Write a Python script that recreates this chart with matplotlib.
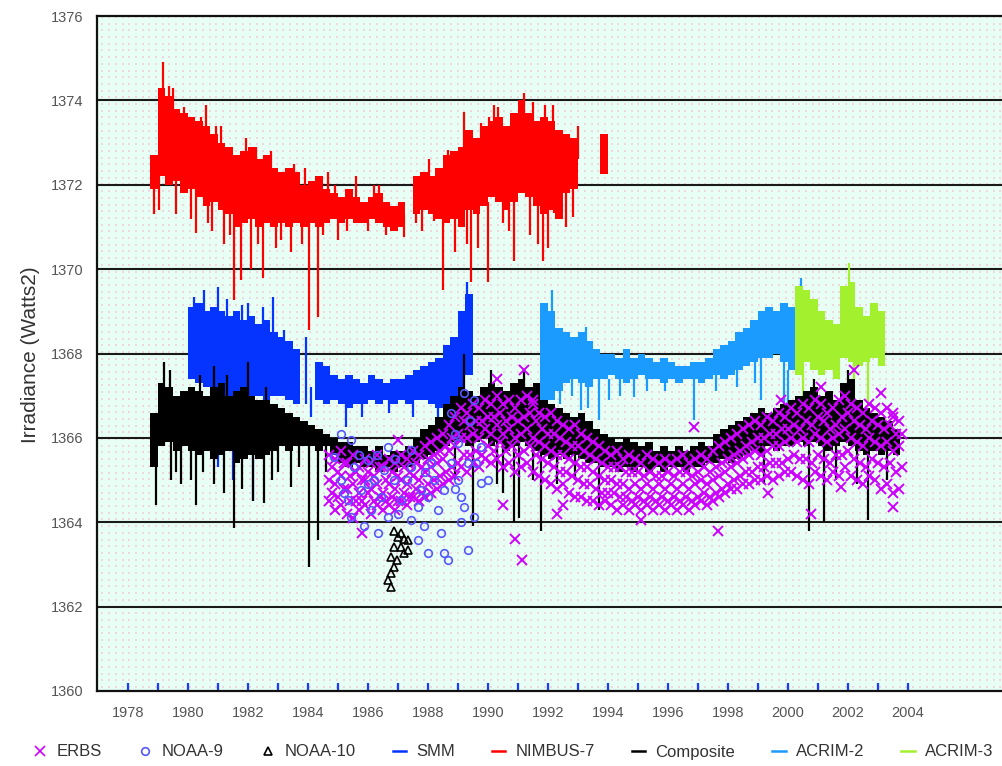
import numpy as np
import matplotlib
matplotlib.use("Agg")
import matplotlib.pyplot as plt
from matplotlib.lines import Line2D

plt.rcParams['font.family'] = ['Liberation Sans', 'DejaVu Sans']

# ---------------- data ----------------
STEP = 0.25  # quarter-year bins for the radiometer bands

# NIMBUS-7 (quarters from 1978.75); nan = no data
nimbus_start = 1978.75
nimbus_hi = [1372.7, 1374.3, 1374.1, 1373.8, 1373.7, 1373.6, 1373.5, 1373.4, 1373.2, 1373.0,
             1372.9, 1372.7, 1372.8, 1372.9, 1372.6, 1372.7, 1372.4, 1372.3, 1372.4, 1372.3,
             1372.0, 1372.1, 1372.2, 1371.9, 1371.8, 1371.7, 1371.9, 1371.7, 1371.6, 1371.7,
             1371.8, 1371.6, 1371.5, 1371.6, np.nan, 1372.2, 1372.3, 1372.2, 1372.4, 1372.7,
             1372.8, 1372.9, 1373.3, 1373.1, 1373.4, 1373.5, 1373.6, 1373.4, 1373.7, 1374.0,
             1373.7, 1373.5, 1373.6, 1373.5, 1373.3, 1373.2, 1373.1, np.nan, np.nan, np.nan,
             1373.2]
nimbus_lo = [1371.9, 1372.2, 1372.0, 1372.1, 1371.8, 1371.9, 1371.7, 1371.5, 1371.6, 1371.4,
             1371.3, 1371.0, 1371.1, 1371.2, 1371.0, 1371.1, 1371.0, 1371.1, 1371.0, 1371.1,
             1371.0, 1371.1, 1371.0, 1371.1, 1371.2, 1371.1, 1371.2, 1371.1, 1371.1, 1371.2,
             1371.1, 1371.0, 1370.9, 1371.0, np.nan, 1371.3, 1371.4, 1371.3, 1371.2, 1371.1,
             1371.2, 1371.0, 1371.4, 1371.3, 1371.5, 1371.7, 1371.6, 1371.4, 1371.6, 1371.8,
             1371.7, 1371.5, 1371.3, 1371.4, 1371.2, 1371.8, 1371.9, np.nan, np.nan, np.nan,
             1372.25]
nimbus_spk_t = [1978.87, 1979.17, 1979.37, 1979.87, 1980.27, 1980.43, 1980.67, 1980.93, 1981.53,
                1981.77, 1981.93, 1982.10, 1982.27, 1982.50, 1982.77, 1982.93, 1983.43, 1983.53,
                1984.03, 1984.33, 1984.67, 1985.00, 1985.60, 1986.00, 1986.37, 1987.20, 1987.60,
                1988.20, 1988.50, 1988.67, 1989.20, 1989.43, 1989.67, 1989.77, 1990.00, 1990.03,
                1990.33, 1990.50, 1990.87, 1991.00, 1991.20, 1991.50, 1991.67, 1991.83, 1992.00,
                1992.17, 1992.20, 1992.83, 1993.00,
                1979.05, 1979.60, 1980.10, 1980.80, 1981.20, 1981.40, 1982.35, 1983.10, 1983.80,
                1984.50, 1985.30, 1986.60, 1987.80, 1988.90, 1989.30, 1990.70, 1991.40, 1992.60,
                1979.50, 1980.60, 1981.10, 1983.90, 1984.90, 1986.20, 1988.05, 1990.20, 1991.90]
nimbus_spk_lo = [1371.3, 1373.8, 1373.6, 1373.0, 1370.85, 1372.8, 1371.1, 1372.6, 1369.27,
                 1369.74, 1372.3, 1370.0, 1372.0, 1369.8, 1372.0, 1370.5, 1370.4, 1371.8,
                 1368.56, 1368.87, 1371.6, 1370.7, 1371.4, 1370.9, 1371.4, 1370.76, 1371.1,
                 1371.15, 1369.5, 1372.0, 1372.8, 1369.7, 1370.5, 1372.8, 1369.7, 1372.9,
                 1373.0, 1371.1, 1370.2, 1373.0, 1373.3, 1373.2, 1370.6, 1370.2, 1370.5,
                 1373.0, 1371.33, 1371.23, 1372.6,
                 1371.4, 1371.3, 1371.2, 1370.9, 1370.6, 1370.8, 1370.6, 1370.7, 1370.6,
                 1370.8, 1370.9, 1370.8, 1370.9, 1370.4, 1370.6, 1370.9, 1370.8, 1371.0,
                 1373.3, 1373.0, 1372.6, 1371.8, 1371.6, 1371.5, 1372.0, 1373.2, 1373.3]
nimbus_spk_hi = [1372.2, 1374.9, 1374.35, 1373.85, 1372.0, 1373.6, 1372.0, 1373.4, 1371.5,
                 1371.5, 1373.1, 1371.5, 1372.9, 1371.3, 1372.8, 1371.3, 1371.3, 1372.5,
                 1371.3, 1371.3, 1372.3, 1371.3, 1372.2, 1371.3, 1372.0, 1371.3, 1371.6,
                 1371.6, 1371.5, 1372.82, 1373.72, 1371.5, 1371.5, 1373.46, 1371.6, 1373.6,
                 1373.85, 1371.6, 1371.6, 1373.7, 1374.17, 1373.96, 1371.6, 1371.5, 1371.5,
                 1373.9, 1371.6, 1371.9, 1373.4,
                 1372.3, 1372.2, 1372.0, 1371.7, 1371.5, 1371.4, 1371.1, 1371.2, 1371.1,
                 1371.2, 1371.2, 1371.1, 1371.5, 1371.3, 1371.5, 1371.7, 1371.8, 1371.9,
                 1374.3, 1373.9, 1373.4, 1372.4, 1372.0, 1372.0, 1372.6, 1373.9, 1373.9]

# SMM (quarters from 1980.0)
smm_start = 1980.0
smm_hi = [1369.1, 1369.2, 1369.0, 1369.1, 1369.0, 1368.9, 1369.0, 1368.8, 1368.9, 1368.7,
          1368.8, 1368.5, 1368.4, 1368.3, 1368.1, np.nan, np.nan, 1367.8, 1367.7, 1367.5,
          1367.4, 1367.5, 1367.4, 1367.3, 1367.5, 1367.4, 1367.3, 1367.4, 1367.4, 1367.5,
          1367.6, 1367.7, 1367.8, 1367.9, 1368.2, 1368.4, 1369.0, 1369.4]
smm_lo = [1367.4, 1367.3, 1367.2, 1367.0, 1367.1, 1367.0, 1366.9, 1367.0, 1366.9, 1367.0,
          1366.9, 1367.0, 1367.0, 1366.9, 1366.8, np.nan, np.nan, 1366.9, 1366.8, 1366.9,
          1366.8, 1366.7, 1366.8, 1366.8, 1366.9, 1366.8, 1366.9, 1366.8, 1366.9, 1366.8,
          1366.9, 1366.9, 1366.8, 1366.7, 1366.8, 1367.0, 1367.2, 1367.5]
smm_spk_t = [1980.53, 1980.99, 1980.99, 1981.50, 1982.00, 1982.17, 1982.83, 1983.20, 1983.95,
             1984.10, 1985.27, 1988.33, 1989.30, 1980.20, 1981.30, 1981.80, 1982.50, 1985.80,
             1986.70, 1987.50]
smm_spk_lo = [1368.5, 1365.3, 1368.5, 1365.0, 1368.4, 1364.5, 1368.2, 1368.0, 1366.8,
              1366.5, 1366.26, 1366.5, 1368.5, 1368.6, 1368.5, 1368.4, 1368.3, 1366.5,
              1366.6, 1366.5]
smm_spk_hi = [1369.5, 1367.2, 1369.58, 1367.0, 1369.2, 1367.0, 1369.34, 1368.56, 1368.4,
              1367.2, 1367.0, 1367.0, 1369.7, 1369.35, 1369.3, 1369.15, 1369.1, 1367.0,
              1367.0, 1367.0]

# ACRIM-2 (quarters from 1991.75)
acrim2_start = 1991.75
acrim2_hi = [1369.2, 1369.0, 1368.6, 1368.5, 1368.4, 1368.5, 1368.3, 1368.1, 1368.0, 1368.0,
             1367.9, 1368.1, 1367.9, 1368.0, 1367.9, 1367.8, 1367.9, 1367.8, 1367.7, 1367.7,
             1367.8, 1367.8, 1367.9, 1368.1, 1368.2, 1368.3, 1368.5, 1368.6, 1368.8, 1369.0,
             1369.1, 1369.0, 1369.2, 1369.1, 1369.2, 1369.0, 1368.9, 1368.7]
acrim2_lo = [1366.5, 1366.9, 1367.1, 1367.3, 1367.4, 1367.3, 1367.2, 1367.4, 1367.4, 1367.5,
             1367.4, 1367.3, 1367.4, 1367.5, 1367.4, 1367.4, 1367.3, 1367.4, 1367.3, 1367.4,
             1367.4, 1367.3, 1367.4, 1367.5, 1367.4, 1367.5, 1367.6, 1367.7, 1367.8, 1367.9,
             1367.9, 1368.0, 1367.8, 1367.6, 1367.5, 1367.9, 1368.0, 1368.2]
acrim2_spk_t = [1991.80, 1992.13, 1993.10, 1993.27, 1993.33, 1993.70, 1994.03, 1994.87, 1996.87,
                1999.10, 1999.87, 2000.00, 2000.43, 1992.40, 1992.80, 1994.40, 1995.30, 1995.90,
                1997.60, 1998.30, 1998.90]
acrim2_spk_lo = [1366.35, 1368.8, 1366.66, 1368.3, 1366.7, 1366.42, 1366.9, 1366.97, 1366.42,
                 1366.9, 1366.6, 1366.5, 1368.8, 1366.8, 1367.0, 1367.0, 1367.1, 1367.1,
                 1367.1, 1367.2, 1367.3]
acrim2_spk_hi = [1367.0, 1369.5, 1367.5, 1368.63, 1367.3, 1367.4, 1367.4, 1367.4, 1367.4,
                 1367.9, 1367.8, 1367.6, 1369.8, 1367.3, 1367.5, 1367.5, 1367.5, 1367.5,
                 1367.6, 1367.6, 1367.9]

# ACRIM-3 (quarters from 2000.25)
acrim3_start = 2000.25
acrim3_hi = [1369.6, 1369.5, 1369.3, 1369.0, 1368.8, 1368.7, 1369.6, 1369.7, 1369.1, 1368.9,
             1369.2, 1369.0]
acrim3_lo = [1367.5, 1367.8, 1367.6, 1367.5, 1367.6, 1367.4, 1367.9, 1367.8, 1367.7, 1367.8,
             1367.9, 1367.7]
acrim3_spk_t = [2000.50, 2002.05, 2002.20, 2002.67]
acrim3_spk_lo = [1366.6, 1369.5, 1366.9, 1366.73]
acrim3_spk_hi = [1367.8, 1370.15, 1367.8, 1367.9]

# Composite (quarters from 1978.75)
comp_start = 1978.75
comp_hi = [1366.6, 1367.3, 1367.2, 1367.0, 1367.1, 1367.2, 1367.1, 1367.0, 1367.2, 1367.3,
           1367.0, 1367.1, 1367.2, 1367.0, 1366.9, 1366.9, 1366.8, 1366.7, 1366.6, 1366.5,
           1366.4, 1366.3, 1366.2, 1366.1, 1366.0, 1365.9, 1365.9, 1365.8, 1365.8, 1365.7,
           1365.8, 1365.6, 1365.7, 1365.7, 1365.8, 1366.0, 1366.2, 1366.3, 1366.5, 1366.8,
           1367.0, 1367.2, 1367.1, 1367.0, 1367.2, 1367.3, 1367.2, 1367.1, 1367.3, 1367.4,
           1367.2, 1367.3, 1366.9, 1366.8, 1366.7, 1366.6, 1366.5, 1366.6, 1366.4, 1366.2,
           1366.1, 1366.0, 1365.9, 1366.0, 1365.9, 1365.8, 1365.9, 1365.7, 1365.8, 1365.7,
           1365.8, 1365.7, 1365.8, 1365.9, 1365.8, 1366.1, 1366.2, 1366.3, 1366.4, 1366.5,
           1366.6, 1366.7, 1366.6, 1366.7, 1366.8, 1366.9, 1367.0, 1367.1, 1367.2, 1367.0,
           1367.1, 1366.9, 1367.3, 1367.4, 1366.9, 1366.7, 1366.6, 1366.5, 1366.4, 1366.2]
comp_lo = [1365.3, 1365.8, 1365.9, 1365.7, 1365.8, 1365.7, 1365.6, 1365.7, 1365.5, 1365.6,
           1365.7, 1365.4, 1365.5, 1365.6, 1365.5, 1365.6, 1365.7, 1365.8, 1365.7, 1365.8,
           1365.8, 1365.8, 1365.7, 1365.8, 1365.6, 1365.4, 1365.3, 1365.4, 1365.3, 1365.3,
           1365.2, 1365.3, 1365.2, 1365.3, 1365.3, 1365.4, 1365.5, 1365.6, 1365.7, 1365.8,
           1365.9, 1365.9, 1365.8, 1365.9, 1366.0, 1365.8, 1365.9, 1365.7, 1365.8, 1365.9,
           1365.8, 1365.7, 1365.6, 1365.5, 1365.6, 1365.5, 1365.6, 1365.5, 1365.4, 1365.4,
           1365.3, 1365.3, 1365.2, 1365.3, 1365.2, 1365.3, 1365.2, 1365.3, 1365.2, 1365.3,
           1365.3, 1365.2, 1365.3, 1365.3, 1365.4, 1365.4, 1365.5, 1365.4, 1365.5, 1365.6,
           1365.7, 1365.6, 1365.8, 1365.7, 1365.8, 1365.8, 1365.9, 1365.8, 1365.9, 1365.8,
           1365.7, 1365.8, 1365.9, 1365.8, 1365.7, 1365.6, 1365.7, 1365.6, 1365.7, 1365.6]
comp_spk_t = [1978.95, 1979.20, 1979.45, 1979.77, 1980.27, 1980.87, 1980.87, 1981.53, 1982.00,
              1982.17, 1982.53, 1983.43, 1984.03, 1984.33, 1989.20, 1989.50, 1990.10, 1990.50,
              1990.87, 1991.05, 1991.20, 1991.77, 1993.70, 1999.20, 2000.70, 2000.87, 2001.20,
              2002.00, 2002.67,
              1979.60, 1980.10, 1980.50, 1981.20, 1981.80, 1982.80, 1983.00, 1983.70, 1984.60,
              1979.40, 1980.40, 1981.30, 1982.60, 1988.90, 1990.30, 1991.50, 1992.30, 1992.90,
              2001.60, 2002.30, 2003.30]
comp_spk_lo = [1364.4, 1365.8, 1365.0, 1364.9, 1364.4, 1364.9, 1366.5, 1363.86, 1366.5,
               1364.5, 1364.45, 1364.84, 1362.94, 1363.58, 1366.5, 1363.9, 1366.5, 1364.7,
               1364.0, 1364.1, 1366.5, 1363.8, 1364.3, 1364.9, 1363.8, 1366.6, 1364.0,
               1366.5, 1364.05,
               1365.2, 1365.0, 1365.2, 1364.7, 1364.8, 1365.0, 1365.2, 1365.3, 1365.2,
               1366.8, 1366.8, 1366.8, 1366.5, 1365.0, 1364.9, 1365.0, 1364.9, 1365.0,
               1365.0, 1364.9, 1365.0]
comp_spk_hi = [1366.0, 1367.8, 1366.0, 1366.0, 1366.0, 1366.0, 1367.7, 1366.0, 1367.8,
               1366.0, 1366.0, 1366.0, 1366.0, 1366.0, 1368.0, 1366.0, 1367.6, 1366.0,
               1366.0, 1366.0, 1367.6, 1366.0, 1365.5, 1365.8, 1366.0, 1367.4, 1366.0,
               1367.6, 1366.0,
               1366.0, 1366.0, 1366.0, 1366.0, 1366.0, 1366.0, 1366.0, 1366.0, 1365.8,
               1367.6, 1367.5, 1367.5, 1367.2, 1366.0, 1366.0, 1366.0, 1365.8, 1365.8,
               1366.0, 1366.0, 1366.0]

# ERBS (every 0.2 yr from 1984.7: five levels across the cloud, top to bottom)
erbs_start = 1984.7
erbs_step = 0.2
erbs_hi = [1365.6, 1365.5, 1365.7, 1365.4, 1365.6, 1365.3, 1365.5, 1365.4, 1365.6, 1365.3,
           1365.5, 1365.4, 1365.6, 1365.5, 1365.7, 1365.6, 1365.8, 1365.9, 1366.0, 1366.1,
           1366.3, 1366.5, 1366.7, 1366.6, 1366.8, 1366.7, 1366.9, 1366.8, 1367.0, 1366.8,
           1366.9, 1366.7, 1366.9, 1367.0, 1366.8, 1366.6, 1366.5, 1366.6, 1366.4, 1366.3,
           1366.2, 1366.3, 1366.1, 1366.0, 1365.9, 1365.8, 1365.7, 1365.6, 1365.7, 1365.5,
           1365.6, 1365.5, 1365.4, 1365.6, 1365.5, 1365.4, 1365.5, 1365.4, 1365.5, 1365.6,
           1365.4, 1365.5, 1365.6, 1365.5, 1365.7, 1365.8, 1365.9, 1366.0, 1366.1, 1366.2,
           1366.3, 1366.4, 1366.3, 1366.5, 1366.4, 1366.6, 1366.5, 1366.7, 1366.6, 1366.8,
           1366.7, 1366.9, 1366.8, 1366.6, 1366.7, 1366.9, 1367.0, 1366.8, 1366.7, 1366.6,
           1366.8, 1366.7, 1366.6, 1366.7, 1366.5, 1366.4]
erbs_q1 = [1365.3, 1365.2, 1365.4, 1365.1, 1365.2, 1365.0, 1365.2, 1365.1, 1365.3, 1365.0,
           1365.2, 1365.1, 1365.3, 1365.2, 1365.4, 1365.3, 1365.5, 1365.6, 1365.7, 1365.8,
           1366.0, 1366.1, 1366.4, 1366.3, 1366.4, 1366.4, 1366.5, 1366.5, 1366.6, 1366.4,
           1366.5, 1366.4, 1366.5, 1366.6, 1366.4, 1366.2, 1366.1, 1366.1, 1366.0, 1365.9,
           1365.8, 1365.8, 1365.7, 1365.6, 1365.5, 1365.4, 1365.3, 1365.3, 1365.3, 1365.2,
           1365.2, 1365.2, 1365.1, 1365.2, 1365.1, 1365.1, 1365.2, 1365.1, 1365.2, 1365.2,
           1365.1, 1365.2, 1365.3, 1365.2, 1365.3, 1365.4, 1365.5, 1365.6, 1365.7, 1365.8,
           1365.9, 1366.0, 1366.0, 1366.1, 1366.1, 1366.2, 1366.2, 1366.3, 1366.2, 1366.4,
           1366.3, 1366.5, 1366.4, 1366.2, 1366.3, 1366.5, 1366.6, 1366.4, 1366.3, 1366.2,
           1366.4, 1366.3, 1366.2, 1366.3, 1366.1, 1366.1]
erbs_mid = [1365.0, 1364.9, 1365.1, 1364.8, 1364.9, 1364.7, 1365.0, 1364.8, 1364.9, 1364.7,
            1364.9, 1364.8, 1365.0, 1364.9, 1365.1, 1365.0, 1365.2, 1365.3, 1365.4, 1365.5,
            1365.7, 1365.8, 1366.0, 1366.0, 1366.1, 1366.0, 1366.2, 1366.1, 1366.3, 1366.1,
            1366.2, 1366.0, 1366.1, 1366.2, 1366.0, 1365.9, 1365.8, 1365.7, 1365.6, 1365.6,
            1365.5, 1365.4, 1365.3, 1365.3, 1365.2, 1365.1, 1365.0, 1365.0, 1364.9, 1364.9,
            1364.8, 1364.9, 1364.8, 1364.9, 1364.8, 1364.9, 1364.8, 1364.9, 1364.8, 1364.9,
            1364.8, 1364.9, 1365.0, 1364.9, 1365.0, 1365.1, 1365.2, 1365.3, 1365.4, 1365.5,
            1365.6, 1365.7, 1365.6, 1365.7, 1365.8, 1365.8, 1365.9, 1366.0, 1365.9, 1366.0,
            1365.9, 1366.1, 1366.0, 1365.9, 1366.0, 1366.1, 1366.2, 1366.0, 1365.9, 1365.8,
            1366.0, 1365.9, 1365.8, 1365.9, 1365.7, 1365.8]
erbs_q3 = [1364.7, 1364.6, 1364.8, 1364.5, 1364.5, 1364.5, 1364.7, 1364.5, 1364.6, 1364.5,
           1364.6, 1364.5, 1364.7, 1364.6, 1364.8, 1364.7, 1364.9, 1365.0, 1365.1, 1365.2,
           1365.3, 1365.4, 1365.6, 1365.6, 1365.7, 1365.6, 1365.8, 1365.7, 1365.9, 1365.7,
           1365.8, 1365.6, 1365.7, 1365.8, 1365.6, 1365.5, 1365.4, 1365.3, 1365.2, 1365.2,
           1365.1, 1365.0, 1364.9, 1364.9, 1364.8, 1364.7, 1364.7, 1364.7, 1364.6, 1364.6,
           1364.5, 1364.6, 1364.5, 1364.6, 1364.5, 1364.6, 1364.5, 1364.6, 1364.5, 1364.6,
           1364.5, 1364.6, 1364.7, 1364.6, 1364.7, 1364.8, 1364.9, 1365.0, 1365.1, 1365.2,
           1365.2, 1365.3, 1365.3, 1365.4, 1365.4, 1365.4, 1365.5, 1365.6, 1365.5, 1365.5,
           1365.4, 1365.6, 1365.5, 1365.4, 1365.6, 1365.6, 1365.7, 1365.5, 1365.4, 1365.3,
           1365.5, 1365.4, 1365.3, 1365.4, 1365.2, 1365.3]
erbs_lo = [1364.5, 1364.3, 1364.4, 1364.2, 1364.1, 1364.3, 1364.4, 1364.2, 1364.4, 1364.3,
           1364.4, 1364.3, 1364.5, 1364.4, 1364.6, 1364.5, 1364.6, 1364.7, 1364.8, 1364.9,
           1365.0, 1365.1, 1365.3, 1365.2, 1365.4, 1365.3, 1365.5, 1365.4, 1365.5, 1365.3,
           1365.4, 1365.2, 1365.3, 1365.4, 1365.2, 1365.1, 1365.0, 1364.9, 1364.8, 1364.9,
           1364.7, 1364.6, 1364.6, 1364.5, 1364.5, 1364.4, 1364.5, 1364.4, 1364.3, 1364.4,
           1364.3, 1364.4, 1364.3, 1364.4, 1364.3, 1364.4, 1364.3, 1364.4, 1364.3, 1364.4,
           1364.3, 1364.4, 1364.5, 1364.4, 1364.5, 1364.6, 1364.7, 1364.8, 1364.8, 1364.9,
           1364.9, 1365.0, 1365.0, 1365.1, 1365.0, 1365.1, 1365.2, 1365.2, 1365.1, 1365.0,
           1364.9, 1365.2, 1365.1, 1365.0, 1365.2, 1365.1, 1365.3, 1365.1, 1365.0, 1364.9,
           1365.1, 1365.0, 1364.8, 1364.9, 1364.7, 1364.8]
erbs_out_t = [1985.80, 1987.00, 1990.30, 1990.50, 1990.90, 1991.15, 1991.20, 1991.50, 1992.30,
              1992.50, 1995.10, 1996.87, 1997.67, 1999.33, 1999.77, 2000.77, 2001.10, 2001.77,
              2002.20, 2003.10, 2003.50, 2003.50]
erbs_out_y = [1363.75, 1365.95, 1367.4, 1364.4, 1363.6, 1363.1, 1367.6, 1366.9, 1364.2,
              1364.4, 1364.05, 1366.26, 1363.8, 1364.7, 1366.9, 1364.2, 1367.2, 1364.84,
              1367.6, 1367.06, 1366.6, 1364.37]

# NOAA-9
noaa9_t = [1985.10, 1985.43, 1984.87, 1985.53, 1985.10, 1985.77, 1985.33, 1986.00, 1986.20,
           1986.43, 1985.87, 1986.33, 1986.67, 1986.87, 1987.10, 1987.43, 1987.67, 1987.87,
           1988.00, 1988.53, 1988.67, 1989.33, 1989.53, 1989.10, 1989.00, 1989.20, 1988.77,
           1989.20, 1989.53, 1989.10, 1989.00, 1989.33, 1989.77, 1989.77, 1990.00, 1988.33,
           1988.20, 1987.43, 1986.67, 1987.43, 1987.77, 1986.53, 1987.00, 1987.67, 1988.43,
           1985.43, 1986.10, 1988.10, 1988.53, 1988.77, 1985.70, 1986.30, 1986.90, 1987.30,
           1987.90, 1986.00, 1985.20, 1988.00, 1988.90, 1989.40, 1989.60, 1988.90]
noaa9_y = [1366.1, 1365.95, 1365.55, 1365.3, 1365.0, 1364.76, 1364.53, 1365.47, 1365.0,
           1364.6, 1363.9, 1363.74, 1364.13, 1365.0, 1364.53, 1364.05, 1364.37, 1363.9,
           1363.27, 1363.27, 1363.1, 1363.34, 1364.13, 1364.6, 1365.0, 1364.37, 1366.6,
           1367.06, 1366.9, 1364.0, 1365.87, 1365.4, 1364.93, 1365.78, 1365.0, 1364.29,
           1365.0, 1365.3, 1365.78, 1365.71, 1364.76, 1365.24, 1364.2, 1363.58, 1363.74,
           1364.13, 1364.29, 1365.4, 1364.76, 1365.4, 1365.6, 1365.6, 1365.5, 1365.0,
           1365.2, 1364.9, 1364.7, 1364.6, 1364.8, 1366.4, 1365.4, 1366.1]

# NOAA-10
noaa10_t = [1986.77, 1986.87, 1986.77, 1987.10, 1987.33, 1987.00, 1987.20, 1986.87, 1986.77,
            1987.10, 1987.33, 1986.97, 1986.67, 1987.20, 1986.87]
noaa10_y = [1362.47, 1362.94, 1363.18, 1363.41, 1363.58, 1363.65, 1363.27, 1363.41, 1362.8,
            1363.74, 1363.34, 1363.1, 1362.63, 1363.6, 1363.8]

year_ticks = list(range(1978, 2005))
y_ticks = list(range(1360, 1377, 2))

# ---------------- colours ----------------
C_NIMBUS = '#ff0000'
C_SMM = '#0533ff'
C_ACRIM2 = '#1c9bff'
C_ACRIM3 = '#a2f02e'
C_COMP = '#000000'
C_ERBS = '#cc00ff'
C_NOAA9 = '#5757ff'
C_NOAA10 = '#000000'

W, H = 1003, 766
fig = plt.figure(figsize=(W / 100, H / 100), dpi=100)
ax = fig.add_axes([97 / W, 75 / H, 913 / W, 675 / H])
ax.set_xlim(1976.97, 2007.4)
ax.set_ylim(1360, 1376)
ax.set_facecolor('#e8fff6')

# dotted background texture
gx = np.arange(0.006, 1.0, 6.7 / 913)
gy = np.arange(0.006, 1.0, 6.7 / 675)
GX, GY = np.meshgrid(gx, gy)
ax.scatter(GX.ravel(), GY.ravel(), s=0.9, marker='s', c='#efd7dc', linewidths=0,
           transform=ax.transAxes, zorder=0.5)

for yv in y_ticks[1:-1]:
    ax.axhline(yv, color='#1a1a1a', lw=1.5, zorder=1)


def band(start, hi, lo, color, z):
    hi = np.asarray(hi, float)
    lo = np.asarray(lo, float)
    edges = start + STEP * np.arange(len(hi) + 1)
    ok = ~np.isnan(hi)
    n = len(hi)
    i = 0
    while i < n:
        if not ok[i]:
            i += 1
            continue
        j = i
        while j < n and ok[j]:
            j += 1
        x = edges[i:j + 1]
        y1 = np.append(lo[i:j], lo[j - 1])
        y2 = np.append(hi[i:j], hi[j - 1])
        ax.fill_between(x, y1, y2, step='post', color=color, lw=0, zorder=z)
        i = j


def spikes(t, lo, hi, color, z):
    ax.vlines(t, lo, hi, colors=color, lw=1.6, zorder=z)


band(smm_start, smm_hi, smm_lo, C_SMM, 2)
spikes(smm_spk_t, smm_spk_lo, smm_spk_hi, C_SMM, 2)
band(nimbus_start, nimbus_hi, nimbus_lo, C_NIMBUS, 2)
spikes(nimbus_spk_t, nimbus_spk_lo, nimbus_spk_hi, C_NIMBUS, 2)
band(acrim2_start, acrim2_hi, acrim2_lo, C_ACRIM2, 2.2)
spikes(acrim2_spk_t, acrim2_spk_lo, acrim2_spk_hi, C_ACRIM2, 2.2)
band(acrim3_start, acrim3_hi, acrim3_lo, C_ACRIM3, 2.4)
spikes(acrim3_spk_t, acrim3_spk_lo, acrim3_spk_hi, C_ACRIM3, 2.4)
band(comp_start, comp_hi, comp_lo, C_COMP, 3)
spikes(comp_spk_t, comp_spk_lo, comp_spk_hi, C_COMP, 3)

erbs_t = erbs_start + erbs_step * np.arange(len(erbs_hi))
mk = dict(marker='x', ms=7.5, mew=1.4, ls='none', color=C_ERBS, zorder=4)
ax.plot(erbs_t, erbs_hi, **mk)
ax.plot(erbs_t + erbs_step / 2, erbs_q1, **mk)
ax.plot(erbs_t, erbs_mid, **mk)
ax.plot(erbs_t + erbs_step / 2, erbs_q3, **mk)
ax.plot(erbs_t, erbs_lo, **mk)
ax.plot(erbs_out_t, erbs_out_y, **mk)

ax.plot(noaa9_t, noaa9_y, marker='o', ms=5.5, mew=1.2, mfc='none', mec=C_NOAA9,
        ls='none', zorder=5)
ax.plot(noaa10_t, noaa10_y, marker='^', ms=6, mew=1.2, mfc='none', mec=C_NOAA10,
        ls='none', zorder=6)

# axes styling
ax.set_xticks(year_ticks)
ax.set_xticklabels([str(y) if y % 2 == 0 else '' for y in year_ticks])
ax.set_yticks(y_ticks)
ax.set_yticklabels([str(v) for v in y_ticks])
ax.tick_params(axis='x', direction='in', length=6, width=1.6, color='#1a3cff', pad=11,
               labelsize=10.5, labelcolor='#555555')
ax.tick_params(axis='y', length=0, pad=10, labelsize=10.5, labelcolor='#555555')
for side in ['top', 'left', 'bottom']:
    ax.spines[side].set_linewidth(1.6)
    ax.spines[side].set_color('#111111')
ax.spines['right'].set_visible(False)

fig.text(31 / W, 1 - 355 / H, 'Irradiance (Watts2)', rotation=90, ha='center', va='center',
         fontsize=15, color='#333333')

handles = [
    Line2D([], [], marker='x', ms=7, mew=1.2, ls='none', color=C_ERBS),
    Line2D([], [], marker='o', ms=5.5, mew=1.2, mfc='none', mec=C_NOAA9, ls='none'),
    Line2D([], [], marker='^', ms=6, mew=1.2, mfc='none', mec=C_NOAA10, ls='none'),
    Line2D([], [], color=C_SMM, lw=1.8),
    Line2D([], [], color=C_NIMBUS, lw=1.8),
    Line2D([], [], color=C_COMP, lw=1.8),
    Line2D([], [], color=C_ACRIM2, lw=1.8),
    Line2D([], [], color=C_ACRIM3, lw=1.8),
]
labels = ['ERBS', 'NOAA-9', 'NOAA-10', 'SMM', 'NIMBUS-7', 'Composite', 'ACRIM-2', 'ACRIM-3']
fig.legend(handles, labels, loc='center left', bbox_to_anchor=(33 / W, 14 / H, 960 / W, 0),
           mode='expand', ncol=8, frameon=False, fontsize=12, handlelength=0.8,
           handletextpad=0.6, borderpad=0, borderaxespad=0, labelcolor='#333333')

fig.savefig('out.png', dpi=100)
